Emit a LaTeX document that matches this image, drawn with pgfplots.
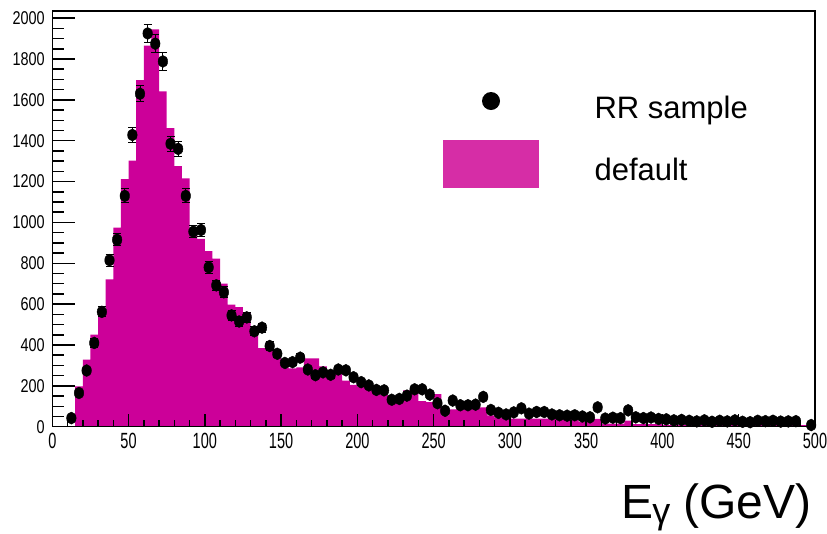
\documentclass[border=0pt]{standalone}
\usepackage{pgfplots}
\pgfplotsset{compat=1.18}
\usepackage{pgfplotstable}
\usepackage{fontspec}
\setmainfont{Liberation Sans}
\definecolor{histcol}{RGB}{204,0,153}
\definecolor{legcol}{RGB}{214,45,166}

\pgfplotstableread{
x y
15 197
20 328
25 451
30 570
35 721
40 975
45 1212
50 1302
55 1696
60 1866
65 1945
70 1642
75 1462
80 1275
85 1215
90 940
95 920
100 860
105 823
110 700
115 598
120 585
125 560
130 485
135 385
140 370
145 340
150 290
155 285
160 290
165 335
170 335
175 295
180 275
185 265
190 226
195 205
200 195
205 185
210 170
215 155
220 130
225 125
230 178
235 180
240 125
245 120
250 160
255 55
260 85
265 85
270 85
275 88
280 95
285 55
290 45
295 42
300 40
305 40
310 40
315 40
320 40
325 40
330 40
335 40
340 40
345 25
350 25
355 38
360 15
365 15
370 15
375 30
380 12
385 12
390 12
395 12
400 8
405 8
410 8
415 8
420 8
425 8
430 8
435 8
440 8
445 8
450 8
455 8
460 8
465 8
470 8
475 8
480 8
485 8
490 8
495 8
500 8
}\histtable

\pgfplotstableread{
x y e
12.5 42 6
17.5 165 13
22.5 275 16
27.5 410 20
32.5 562 24
37.5 815 29
42.5 915 30
47.5 1130 34
52.5 1428 38
57.5 1630 40
62.5 1925 44
67.5 1875 43
72.5 1788 42
77.5 1385 37
82.5 1360 37
87.5 1130 34
92.5 955 31
97.5 963 31
102.5 780 28
107.5 692 26
112.5 658 26
117.5 545 23
122.5 515 23
127.5 535 23
132.5 467 22
137.5 485 22
142.5 395 20
147.5 357 19
152.5 312 18
157.5 316 18
162.5 338 18
167.5 280 17
172.5 252 16
177.5 266 16
182.5 254 16
187.5 280 17
192.5 276 16
197.5 242 15
202.5 218 15
207.5 202 14
212.5 180 13
217.5 178 13
222.5 132 11
227.5 136 11
232.5 152 12
237.5 183 13
242.5 183 13
247.5 157 12
252.5 115 10
257.5 78 8
262.5 128 11
267.5 105 10
272.5 105 10
277.5 108 10
282.5 146 12
287.5 82 9
292.5 68 8
297.5 60 7
302.5 70 8
307.5 90 9
312.5 64 8
317.5 72 8
322.5 72 8
327.5 60 8
332.5 56 7
337.5 54 7
342.5 56 7
347.5 50 7
352.5 46 7
357.5 95 10
362.5 40 6
367.5 44 7
372.5 42 6
377.5 80 9
382.5 46 7
387.5 42 6
392.5 45 7
397.5 38 6
402.5 36 6
407.5 31 6
412.5 33 6
417.5 29 5
422.5 26 5
427.5 31 6
432.5 24 5
437.5 29 5
442.5 26 5
447.5 31 6
452.5 24 5
457.5 22 5
462.5 29 5
467.5 27 5
472.5 29 5
477.5 25 5
482.5 26 5
487.5 27 5
497.5 8 3
}\datatable

\pgfplotsset{
  common/.style={
    at={(52.3pt,107.3pt)}, anchor=south west,
    width=762.7pt, height=415.7pt, scale only axis,
    xmin=0, xmax=500, ymin=0, ymax=2035,
    xtick pos=bottom, ytick pos=left,
    scaled ticks=false,
    /pgf/number format/assume math mode=true,
    /pgf/number format/1000 sep={},
  }
}

\begin{document}
\begin{tikzpicture}
\path[use as bounding box] (0,0) rectangle (827pt,534pt);
\begin{axis}[
  common,
  xtick={0,50,...,500}, ytick={0,200,...,2000},
  minor x tick num=0, minor y tick num=3,
  tick align=inside,
  major tick length=23pt, minor tick length=12pt,
  xtick style={draw=none},
  ytick style={black, line width=1.5pt},
  axis on top,
  axis line style={black, line width=1.2pt},
  yticklabel style={font=\fontsize{18.5}{18.5}\selectfont, xscale=0.78, anchor=east, inner sep=0pt, xshift=-9.6pt},
  xticklabel style={font=\fontsize{22}{22}\selectfont, xscale=0.66, anchor=north, inner sep=0pt, yshift=-6.3pt},
  xlabel={E\kern-1pt\raisebox{-5pt}{\fontsize{36}{36}\selectfont γ} (GeV)},
  xlabel style={at={(axis description cs:0.7457,-0.222)}, anchor=base west, inner sep=0pt, font=\fontsize{48}{48}\selectfont},
  legend style={at={(axis description cs:0.5123,0.8395)}, anchor=north west, draw=none, fill=none,
    inner sep=0pt, outer sep=0pt, font=\fontsize{31}{37}\selectfont, row sep=8pt, column sep=0pt,
    nodes={inner sep=0pt, outer sep=0pt}},
  legend cell align=left,
]
\addlegendimage{legend image code/.code={\path[draw=none,fill=none] (0pt,-24pt) rectangle (151.5pt,30pt); \fill[black, draw=none] (48pt,6.7pt) circle (9pt);}}
\addlegendentry{RR sample}
\addlegendimage{legend image code/.code={\path[draw=none,fill=none] (0pt,-24pt) rectangle (151.5pt,30pt); \fill[legcol, draw=none] (0pt,-18.2pt) rectangle (96pt,29.5pt);}}
\addlegendentry{default}

\addplot[ybar interval, fill=histcol, draw=none, forget plot] table[x=x, y=y] {\histtable};

\addplot[only marks, mark=*, black, mark size=6pt, mark options={xscale=0.8}, forget plot,
  error bars/.cd, y dir=both, y explicit,
  error bar style={line width=1pt, black},
  error mark options={rotate=90, mark size=4pt, line width=1pt}]
  table[x=x, y=y, y error=e] {\datatable};
\end{axis}
\begin{axis}[
  common,
  xtick={0,50,...,500}, minor x tick num=4,
  ytick=\empty, xticklabels={},
  tick align=inside,
  major tick length=13pt, minor tick length=7pt,
  xtick style={black, line width=1.5pt},
  axis line style={draw=none},
]
\end{axis}
\end{tikzpicture}
\end{document}
